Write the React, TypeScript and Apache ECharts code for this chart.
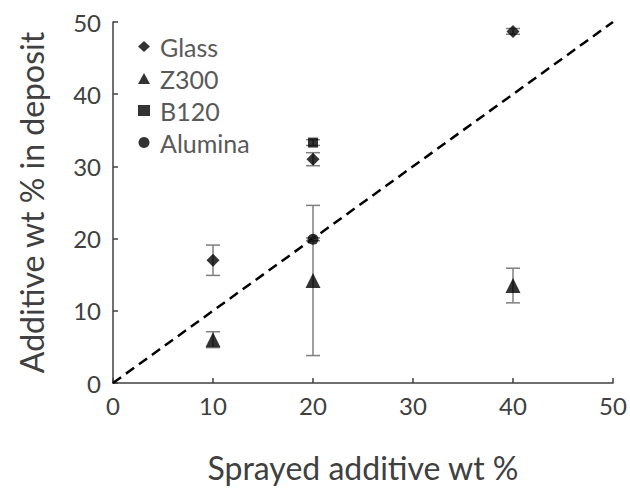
import React, { useEffect, useRef } from "react";
import * as echarts from "echarts";

const xTicks = [0, 10, 20, 30, 40, 50];
const seriesNames = ["Glass", "Z300", "B120", "Alumina"];
const symbols = ["diamond", "triangle", "rect", "circle"];
const symbolSizes = [13, 15, 10, 11];
// [x, y, errLow, errHigh]
const glass = [
  [10, 17.0, 14.9, 19.1],
  [20, 31.0, 30.1, 31.9],
  [40, 48.7, 48.3, 49.1],
];
const z300 = [
  [10, 6.0, 4.9, 7.1],
  [20, 14.2, 3.8, 24.6],
  [40, 13.5, 11.1, 15.9],
];
const b120 = [[20, 33.3, 32.9, 33.7]];
const alumina = [[20, 19.9, 19.7, 20.1]];
const identity = [
  [0, 0],
  [50, 50],
];

const allData = [glass, z300, b120, alumina];
const FONT = "Lato, 'Open Sans', sans-serif";

export default function App() {
  const ref = useRef<HTMLDivElement>(null);
  useEffect(() => {
    document.body.style.margin = "0";
    const chart = echarts.init(ref.current!, null, { renderer: "svg" });
    const errData: number[][] = [];
    allData.forEach((d) => d.forEach((p) => errData.push([p[0], p[2], p[3]])));
    chart.setOption({
      animation: false,
      grid: { left: 113, top: 22, width: 500, height: 364 },
      legend: {
        orient: "vertical",
        left: 133,
        top: 29,
        itemGap: 7,
        itemWidth: 12,
        itemHeight: 11,
        data: seriesNames,
        textStyle: { fontFamily: FONT, fontSize: 25, color: "#595959", padding: [0, 0, 0, 5] },
      },
      xAxis: {
        type: "value",
        min: 0,
        max: 50,
        interval: 10,
        name: "Sprayed additive wt %",
        nameLocation: "middle",
        nameGap: 68,
        nameTextStyle: { fontFamily: FONT, fontSize: 32, color: "#404040" },
        axisLine: { lineStyle: { color: "#404040", width: 1.5 } },
        axisTick: { inside: true, length: 5, lineStyle: { color: "#404040", width: 1.5 } },
        axisLabel: { fontFamily: FONT, fontSize: 24, color: "#404040", margin: 10 },
        splitLine: { show: false },
      },
      yAxis: {
        type: "value",
        min: 0,
        max: 50,
        interval: 10,
        name: "Additive wt % in deposit",
        nameLocation: "middle",
        nameGap: 66,
        nameTextStyle: { fontFamily: FONT, fontSize: 32, color: "#404040" },
        axisLine: { show: true, lineStyle: { color: "#404040", width: 1.5 } },
        axisTick: { show: true, inside: true, length: 5, lineStyle: { color: "#404040", width: 1.5 } },
        axisLabel: { fontFamily: FONT, fontSize: 24, color: "#404040", margin: 12 },
        splitLine: { show: false },
      },
      series: [
        {
          type: "line",
          data: identity,
          symbol: "none",
          lineStyle: { color: "#000", width: 2.5, type: [10, 6] },
          z: 1,
          silent: true,
        },
        {
          type: "custom",
          data: errData,
          z: 2,
          renderItem: (params: any, api: any) => {
            const x = api.value(0);
            const lo = api.coord([x, api.value(1)]);
            const hi = api.coord([x, api.value(2)]);
            const w = 7;
            const style = { stroke: "#7f7f7f", lineWidth: 1.5 };
            return {
              type: "group",
              children: [
                { type: "line", shape: { x1: lo[0], y1: lo[1], x2: hi[0], y2: hi[1] }, style },
                { type: "line", shape: { x1: lo[0] - w, y1: lo[1], x2: lo[0] + w, y2: lo[1] }, style },
                { type: "line", shape: { x1: hi[0] - w, y1: hi[1], x2: hi[0] + w, y2: hi[1] }, style },
              ],
            };
          },
        },
        ...seriesNames.map((name, i) => ({
          type: "scatter",
          name,
          symbol: symbols[i],
          symbolSize: symbolSizes[i],
          data: allData[i].map((p) => [p[0], p[1]]),
          itemStyle: { color: "#000" },
          z: 3,
        })),
      ],
    });
    return () => chart.dispose();
  }, []);
  return <div ref={ref} style={{ width: 630, height: 488 }} />;
}
